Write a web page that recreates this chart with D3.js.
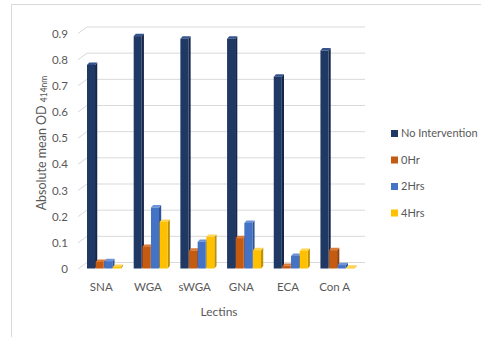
<!DOCTYPE html>
<html>
<head>
<meta charset="utf-8">
<script src="https://cdn.jsdelivr.net/npm/d3@7"></script>
<style>
  body { margin: 0; background: #fff; }
  svg { font-family: Lato, "Open Sans", sans-serif; }
</style>
</head>
<body>
<svg id="chart" width="481" height="337"></svg>
<script>
// chart data
const lectins = ["SNA", "WGA", "sWGA", "GNA", "ECA", "Con A"];
const seriesNames = ["No Intervention", "0Hr", "2Hrs", "4Hrs"];
const noIntervention = [0.78, 0.89, 0.88, 0.88, 0.735, 0.835];
const hr0 = [0.027, 0.084, 0.07, 0.118, 0.012, 0.072];
const hr2 = [0.03, 0.235, 0.104, 0.176, 0.05, 0.015];
const hr4 = [0.008, 0.18, 0.123, 0.072, 0.069, 0.005];
const yTicks = [0, 0.1, 0.2, 0.3, 0.4, 0.5, 0.6, 0.7, 0.8, 0.9];

const allSeries = [noIntervention, hr0, hr2, hr4];
const colors = ["#203864", "#C55A11", "#4472C4", "#FFC000"];
const sideColors = ["#14264a", "#8f400b", "#2f5597", "#bf9000"];
const topColors = ["#34548e", "#de7a33", "#6d93d8", "#ffd54f"];

const svg = d3.select("#chart");

// outer frame (top and left only visible)
svg.append("line").attr("x1", 11.5).attr("x2", 481).attr("y1", 4.5).attr("y2", 4.5)
    .attr("stroke", "#d9d9d9");
svg.append("line").attr("x1", 11.5).attr("x2", 11.5).attr("y1", 4.5).attr("y2", 337)
    .attr("stroke", "#d9d9d9");

const y = d3.scaleLinear().domain([0, 0.9]).range([269, 33.5]);
const x0 = d3.scaleBand().domain(lectins).range([80, 362]).paddingInner(0.26).paddingOuter(0.15);
const x1 = d3.scaleBand().domain(d3.range(seriesNames.length)).range([0, x0.bandwidth()]);

const depthX = 9, depthY = 6.5;

// gridlines with 3D slant
const grid = svg.append("g");
yTicks.forEach(t => {
    const yf = y(t);
    grid.append("path")
        .attr("d", `M78,${yf} L${78 + depthX},${yf - depthY} L365,${yf - depthY}`)
        .attr("fill", "none")
        .attr("stroke", "#d9d9d9")
        .attr("stroke-width", 1);
});

// y tick labels
svg.append("g").selectAll("text")
    .data(yTicks)
    .enter().append("text")
    .attr("x", 68)
    .attr("y", d => y(d))
    .attr("dy", "0.35em")
    .attr("text-anchor", "end")
    .attr("font-size", 11.5)
    .attr("fill", "#595959")
    .text(d => d === 0 ? "0" : d3.format(".1f")(d));

// bars
const bw = x1.bandwidth();
const face = bw - 0.6, dx = 2.2, dy = 2.4;
lectins.forEach((cat, i) => {
    allSeries.forEach((s, k) => {
        const v = s[i];
        const left = x0(cat) + x1(k);
        const top = y(v);
        const base = 268.5;
        const g = svg.append("g");
        // side face
        g.append("path")
            .attr("d", `M${left + face},${base} L${left + face + dx},${base - dy} L${left + face + dx},${top - dy} L${left + face},${top} Z`)
            .attr("fill", sideColors[k]);
        // top face
        g.append("path")
            .attr("d", `M${left},${top} L${left + dx},${top - dy} L${left + face + dx},${top - dy} L${left + face},${top} Z`)
            .attr("fill", topColors[k]);
        // front face
        g.append("rect")
            .attr("x", left)
            .attr("y", top)
            .attr("width", face)
            .attr("height", Math.max(0, base - top))
            .attr("fill", colors[k]);
    });
});

// x labels
svg.append("g").selectAll("text")
    .data(lectins)
    .enter().append("text")
    .attr("x", d => x0(d) + x0.bandwidth() / 2 - 3)
    .attr("y", 287)
    .attr("dy", "0.35em")
    .attr("text-anchor", "middle")
    .attr("font-size", 11.5)
    .attr("fill", "#595959")
    .text(d => d);

// axis titles
svg.append("text")
    .attr("x", 219)
    .attr("y", 312)
    .attr("dy", "0.35em")
    .attr("text-anchor", "middle")
    .attr("font-size", 12)
    .attr("fill", "#595959")
    .text("Lectins");

const yTitle = svg.append("text")
    .attr("transform", "translate(46,143) rotate(-90)")
    .attr("text-anchor", "middle")
    .attr("font-size", 12.5)
    .attr("fill", "#595959");
yTitle.append("tspan").text("Absolute mean OD ");
yTitle.append("tspan").attr("font-size", 8.5).attr("dy", 1).text("414nm");

// legend
const legend = svg.append("g").selectAll("g")
    .data(seriesNames)
    .enter().append("g")
    .attr("transform", (d, i) => `translate(391,${133.5 + i * 26.5})`);
legend.append("rect")
    .attr("x", 0).attr("y", -3.5)
    .attr("width", 7).attr("height", 7)
    .attr("fill", (d, i) => colors[i]);
legend.append("text")
    .attr("x", 10)
    .attr("dy", "0.35em")
    .attr("font-size", 11)
    .attr("fill", "#595959")
    .text(d => d);
</script>
</body>
</html>
